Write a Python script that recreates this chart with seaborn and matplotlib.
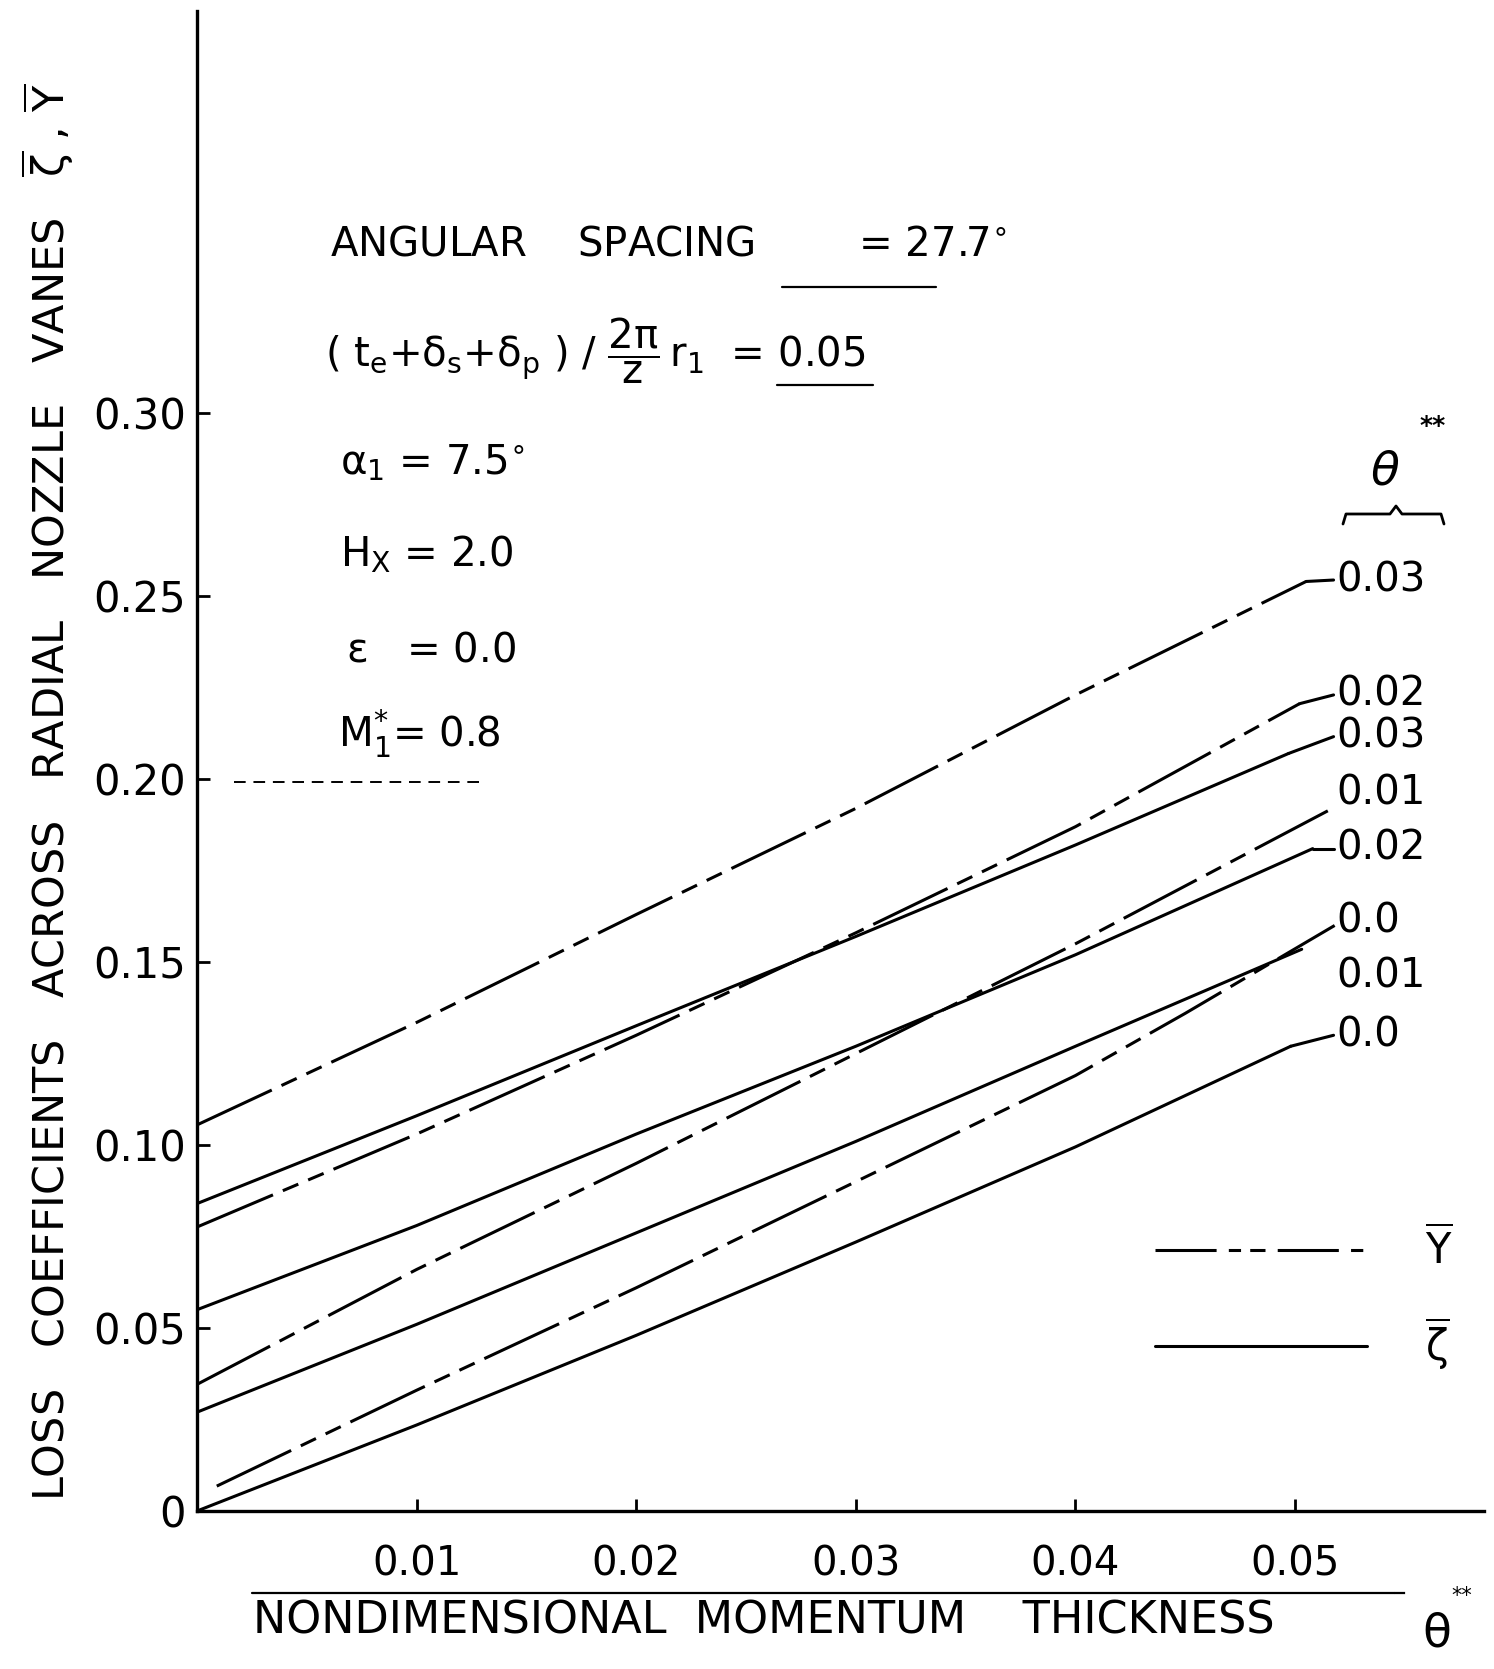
import numpy as np
import pandas as pd
import matplotlib
matplotlib.use("Agg")
import matplotlib.pyplot as plt
from matplotlib.lines import Line2D
import seaborn as sns

# ---------------- data ----------------
x_Y_003 = [0.0, 0.01, 0.02, 0.03, 0.04, 0.0505]
Y_003 = [0.1055, 0.1335, 0.163, 0.192, 0.223, 0.254]
x_Y_002 = [0.0, 0.01, 0.02, 0.03, 0.04, 0.0502]
Y_002 = [0.0776, 0.103, 0.130, 0.158, 0.187, 0.2206]
x_Y_001 = [0.0, 0.01, 0.02, 0.03, 0.04, 0.0517]
Y_001 = [0.0346, 0.066, 0.095, 0.125, 0.155, 0.192]
x_Y_000 = [0.0009, 0.01, 0.02, 0.03, 0.04, 0.045, 0.0518]
Y_000 = [0.0068, 0.033, 0.061, 0.090, 0.119, 0.136, 0.160]

x_Z_003 = [0.0, 0.01, 0.02, 0.03, 0.04, 0.0497]
Z_003 = [0.084, 0.108, 0.1326, 0.157, 0.182, 0.207]
x_Z_002 = [0.0, 0.01, 0.02, 0.03, 0.04, 0.0508]
Z_002 = [0.055, 0.078, 0.103, 0.127, 0.152, 0.181]
x_Z_001 = [0.0, 0.01, 0.02, 0.03, 0.04, 0.0503]
Z_001 = [0.027, 0.051, 0.076, 0.101, 0.127, 0.1535]
x_Z_000 = [0.0, 0.01, 0.02, 0.03, 0.04, 0.0498]
Z_000 = [0.0, 0.0235, 0.048, 0.0735, 0.0995, 0.127]

curve_names = ["Y_003", "Y_002", "Z_003", "Y_001", "Z_002", "Y_000", "Z_001", "Z_000"]
curve_kind = ["Y", "Y", "Z", "Y", "Z", "Y", "Z", "Z"]
curve_x = [x_Y_003, x_Y_002, x_Z_003, x_Y_001, x_Z_002, x_Y_000, x_Z_001, x_Z_000]
curve_y = [Y_003, Y_002, Z_003, Y_001, Z_002, Y_000, Z_001, Z_000]
curve_labels = ["0.03", "0.02", "0.03", "0.01", "0.02", "0.0", "0.01", "0.0"]
label_y = [0.2544, 0.223, 0.2116, 0.196, 0.181, 0.161, 0.146, 0.130]
has_leader = [True, True, True, False, True, False, False, True]
label_x = 0.0519

x_ticks = [0.01, 0.02, 0.03, 0.04, 0.05]
x_ticklabels = ["0.01", "0.02", "0.03", "0.04", "0.05"]
y_ticks = [0.0, 0.05, 0.10, 0.15, 0.20, 0.25, 0.30]
y_ticklabels = ["0", "0.05", "0.10", "0.15", "0.20", "0.25", "0.30"]

# ---------------- style ----------------
sns.set_style("ticks")
plt.rcParams["font.family"] = ["DejaVu Sans"]
plt.rcParams["mathtext.fontset"] = "dejavusans"
plt.rcParams["mathtext.default"] = "regular"
plt.rcParams["text.color"] = "black"
plt.rcParams["xtick.color"] = "black"
plt.rcParams["ytick.color"] = "black"
plt.rcParams["axes.labelcolor"] = "black"

W, H = 1494, 1669
fig = plt.figure(figsize=(W / 100, H / 100), dpi=100)
fig.patch.set_facecolor("white")
ax = fig.add_axes([197 / W, 1 - 1511 / H, (1484 - 197) / W, (1511 - 10.6) / H])
ax.set_facecolor("white")

LW = 2.2
dashdot = (0, (27, 3.5, 5.5, 3.5, 5.5, 3.5))

frames = []
for name, kind, xs, ys in zip(curve_names, curve_kind, curve_x, curve_y):
    frames.append(pd.DataFrame({"theta": xs, "loss": ys, "curve": name, "kind": kind}))
df = pd.concat(frames, ignore_index=True)

for name, kind in zip(curve_names, curve_kind):
    sub = df[df["curve"] == name]
    sns.lineplot(data=sub, x="theta", y="loss", ax=ax, color="black", lw=LW,
                 sort=False, estimator=None,
                 linestyle=dashdot if kind == "Y" else "-")

# curve-end labels and leaders
for xs, ys, lab, ly, lead in zip(curve_x, curve_y, curve_labels, label_y, has_leader):
    if lead:
        ax.plot([xs[-1], label_x - 0.00015], [ys[-1], ly], color="black", lw=LW,
                clip_on=False)
    ax.text(label_x, ly, lab, fontsize=29, ha="left", va="center", color="black")

ax.set_xlim(0, 0.0586)
ax.set_ylim(0, 0.41)
ax.set_xticks(x_ticks)
ax.set_xticklabels(x_ticklabels, fontsize=29)
ax.set_yticks(y_ticks)
ax.set_yticklabels(y_ticklabels, fontsize=30)
ax.tick_params(axis="both", direction="in", length=9, width=2, color="black",
               labelcolor="black")
ax.tick_params(axis="x", pad=24)
ax.tick_params(axis="y", pad=8)
ax.set_xlabel("")
ax.set_ylabel("")
for s in ["top", "right"]:
    ax.spines[s].set_visible(False)
for s in ["left", "bottom"]:
    ax.spines[s].set_linewidth(2.4)
    ax.spines[s].set_color("black")

# legend
handles = [Line2D([], [], color="black", lw=LW, linestyle=(0, (20, 4, 4, 3, 5, 4))),
           Line2D([], [], color="black", lw=LW, linestyle="-")]
leg = ax.legend(handles, [r"$\overline{Y}$", r"$\overline{\zeta}$"], fontsize=30,
                frameon=False, handlelength=5.1, handletextpad=1.4, labelspacing=1.0,
                loc="center left", bbox_to_anchor=(0.744, 0.141), borderpad=0,
                borderaxespad=0)
for t in leg.get_texts():
    t.set_color("black")

# ---------------- annotation text ----------------
def fpos(x, y):
    return x / W, 1 - y / H

fs = 29
fig.text(*fpos(330, 245), "ANGULAR    SPACING        = 27.7$^{\\circ}$", fontsize=fs,
         ha="left", va="center")
fig.text(*fpos(325, 351),
         r"( $t_e$+$\delta_s$+$\delta_p$ ) / $\dfrac{2\pi}{z}\,r_1$  = 0.05",
         fontsize=fs, ha="left", va="center")
fig.text(*fpos(340, 463), r"$\alpha_1$ = 7.5$^{\circ}$", fontsize=fs, ha="left", va="center")
fig.text(*fpos(340, 555), r"$H_X$ = 2.0", fontsize=fs, ha="left", va="center")
fig.text(*fpos(346, 651), r"$\epsilon$   = 0.0", fontsize=fs, ha="left", va="center")
fig.text(*fpos(338, 734), r"$M_1^{*}$= 0.8", fontsize=fs, ha="left", va="center")

def fline(xs, ys, **kw):
    fx = [x / W for x in xs]
    fy = [1 - y / H for y in ys]
    fig.add_artist(Line2D(fx, fy, transform=fig.transFigure, color="black", **kw))

fline([782, 936], [287, 287], lw=1.6)
fline([777, 873], [385, 385], lw=1.6)
fline([234, 479], [782, 782], lw=1.4, linestyle=(0, (6, 4)))

# theta** header with brace
fig.text(*fpos(1385, 472), r"$\theta$", fontsize=34, ha="center", va="center",
         style="italic")
fig.text(*fpos(1433, 426), "**", fontsize=18, ha="center", va="center",
         fontweight="bold")
fline([1343, 1346, 1390, 1396, 1402, 1441, 1444],
      [524, 514, 514, 506, 514, 514, 524], lw=2.0)

# y axis label
fig.text(48 / W, 1 - 792 / H,
         r"LOSS   COEFFICIENTS   ACROSS   RADIAL   NOZZLE   VANES   $\overline{\zeta}$ , $\overline{Y}$",
         rotation=90, fontsize=31, ha="center", va="center")

# x axis label with rule
fline([252, 1394], [1593, 1593], lw=1.6)
fline([1394, 1414], [1593, 1593], lw=1.6, linestyle=(0, (5, 4)))
fig.text(*fpos(764, 1621), "NONDIMENSIONAL  MOMENTUM    THICKNESS", fontsize=32,
         ha="center", va="center")
fig.text(*fpos(1436, 1634), r"$\theta$", fontsize=34, ha="center", va="center")
fig.text(*fpos(1462, 1596), "**", fontsize=15, ha="center", va="center")

fig.savefig("out.png", dpi=100, facecolor="white")
